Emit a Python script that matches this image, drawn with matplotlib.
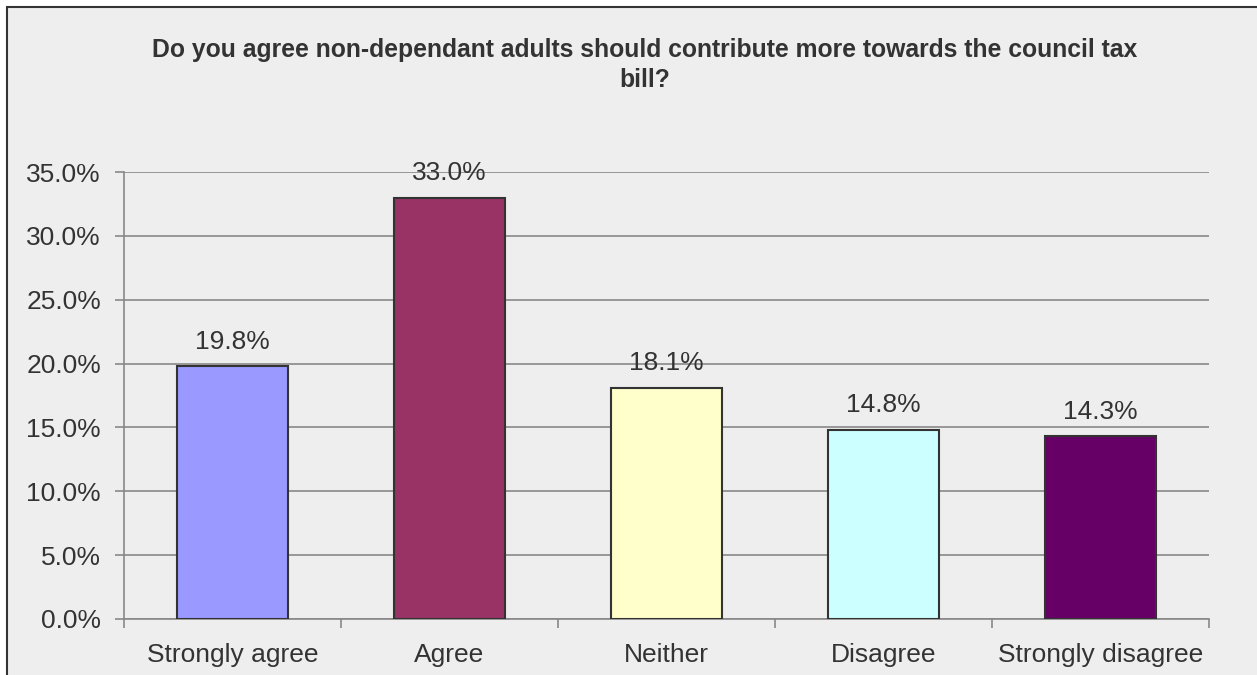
import matplotlib.pyplot as plt
from matplotlib.patches import Rectangle
from matplotlib.ticker import MultipleLocator, FuncFormatter

# survey answers and their shares (%)
categories = ['Strongly agree', 'Agree', 'Neither', 'Disagree', 'Strongly disagree']
values = [19.8, 33.0, 18.1, 14.8, 14.3]
bar_colors = ['#9999FF', '#993366', '#FFFFCC', '#CCFFFF', '#660066']
title = 'Do you agree non-dependant adults should contribute more towards the council tax\nbill?'

plt.rcParams['font.family'] = ['Liberation Sans', 'DejaVu Sans']
text_col = '#333333'
bg = '#EEEEEE'

fig = plt.figure(figsize=(12.57, 6.75), dpi=100)
fig.patch.set_facecolor('white')

# chart area frame (cropped at right and bottom)
fig.patches.append(Rectangle((7 / 1257, -0.05), 1.1, 1 - 7 / 675 + 0.05,
                             transform=fig.transFigure, facecolor=bg,
                             edgecolor='#333333', linewidth=1.5, zorder=-10))

ax = fig.add_axes([124 / 1257, 1 - 619 / 675, (1209 - 124) / 1257, (619 - 172) / 675])
ax.set_facecolor(bg)

x = range(len(categories))
bars = ax.bar(x, values, width=0.507, color=bar_colors, edgecolor='#333333',
              linewidth=1.5, zorder=3)

for b, v in zip(bars, values):
    ax.annotate(f'{v:.1f}%', (b.get_x() + b.get_width() / 2, v),
                xytext=(0, 9), textcoords='offset points', ha='center',
                va='bottom', fontsize=19, color=text_col)

ax.set_xlim(-0.5, len(categories) - 0.5)
ax.set_ylim(0, 35)
ax.yaxis.set_major_locator(MultipleLocator(5))
ax.yaxis.set_major_formatter(FuncFormatter(lambda v, p: f'{v:.1f}%'))
ax.grid(axis='y', color='#888888', linewidth=1.2, zorder=1)

# category labels between boundary ticks
ax.set_xticks([i - 0.5 for i in range(len(categories) + 1)])
ax.set_xticklabels([])
ax.set_xticks(list(x), minor=True)
ax.set_xticklabels(categories, minor=True)
ax.tick_params(axis='x', which='major', direction='out', length=6.5, color='#888888', width=1.2)
ax.tick_params(axis='x', which='minor', length=0, pad=17, labelsize=19, labelcolor=text_col)
ax.tick_params(axis='y', direction='out', length=6.5, color='#888888', width=1.2,
               pad=10, labelsize=19, labelcolor=text_col)

for s in ['top', 'right']:
    ax.spines[s].set_visible(False)
for s in ['left', 'bottom']:
    ax.spines[s].set_color('#888888')
    ax.spines[s].set_linewidth(1.2)

fig.text(645 / 1257, 1 - 65 / 675, title, ha='center', va='center',
         fontsize=17.8, fontweight='bold', color=text_col, linespacing=1.3)

fig.savefig('out.png', dpi=100)
